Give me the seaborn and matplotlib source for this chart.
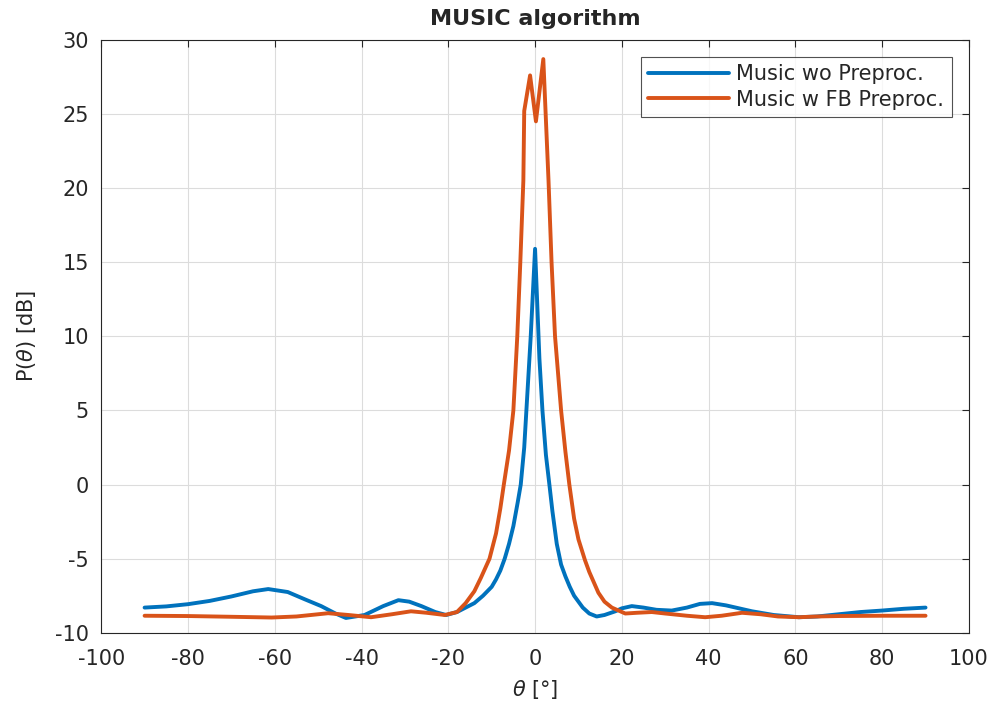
import pandas as pd
import matplotlib
matplotlib.use("Agg")
import matplotlib.pyplot as plt
import seaborn as sns

# %% Dados
theta_wo = [-90, -85, -80, -75, -70, -65, -61.5, -57, -53, -49.3, -46, -43.6, -39.3, -35, -31.5, -29, -26.2, -23, -20.5,
            -18, -16, -14, -12, -10, -9, -8, -7, -6, -5, -4, -3.3, -2.5, -2, -1, 0,
            1, 1.7, 2.5, 3.3, 4, 5, 6, 7, 8, 9, 10, 11, 12.5, 14.2, 16, 18.5, 20, 22.3, 25, 28, 31.5,
            35, 38, 40.8, 44, 47, 50, 55, 60.8, 65, 70, 75, 80, 85, 90]
p_wo = [-8.3, -8.22, -8.07, -7.85, -7.55, -7.2, -7.05, -7.25, -7.75, -8.2, -8.7, -9.0, -8.8, -8.2, -7.8, -7.9, -8.2, -8.6, -8.8,
        -8.6, -8.3, -8.0, -7.5, -6.9, -6.4, -5.8, -5.0, -4.0, -2.8, -1.2, 0.0, 2.5, 5.0, 10.0, 15.9,
        8.5, 5.0, 2.0, 0.0, -1.8, -4.0, -5.4, -6.2, -6.9, -7.5, -7.9, -8.3, -8.7, -8.9, -8.8, -8.55, -8.35, -8.2, -8.3, -8.45, -8.5,
        -8.3, -8.05, -8.0, -8.15, -8.35, -8.55, -8.8, -8.95, -8.9, -8.75, -8.6, -8.5, -8.38, -8.3]

theta_fb = [-90, -80, -70, -60.7, -55, -50, -47.7, -43, -37.8, -33, -28.6, -25, -20.8,
            -18, -16, -14, -12.5, -10.5, -9, -8, -7.2, -6, -5, -4.1, -3.4, -2.7, -2.5, -1.15, 0.2,
            1.9, 3.1, 3.8, 4.6, 6.0, 7.0, 7.9, 9, 10, 11.5, 12.5, 14.6, 16, 17.7, 20.8,
            23.5, 26.9, 30, 35, 39.2, 43, 47.7, 52, 56, 60.8, 65, 70, 80, 90]
p_fb = [-8.85, -8.87, -8.92, -8.97, -8.9, -8.75, -8.68, -8.8, -8.95, -8.75, -8.55, -8.65, -8.8,
        -8.6, -8.0, -7.2, -6.3, -5.0, -3.3, -1.6, 0.0, 2.3, 5.0, 10.0, 15.0, 20.5, 25.2, 27.6, 24.5,
        28.7, 20.5, 15.0, 10.0, 5.0, 2.2, 0.0, -2.3, -3.7, -5.1, -5.9, -7.3, -7.9, -8.3, -8.7,
        -8.65, -8.6, -8.7, -8.85, -8.95, -8.85, -8.65, -8.75, -8.9, -8.95, -8.9, -8.87, -8.85, -8.85]

x_ticks = list(range(-100, 101, 20))
y_ticks = list(range(-10, 31, 5))

df_wo = pd.DataFrame({"theta": theta_wo, "P": p_wo})
df_fb = pd.DataFrame({"theta": theta_fb, "P": p_fb})

# %% Estilo tipo MATLAB
sns.set_style("white")
plt.rcParams["font.family"] = ["DejaVu Sans"]
plt.rcParams["mathtext.fontset"] = "dejavusans"
plt.rcParams["axes.unicode_minus"] = False

fig = plt.figure(figsize=(10.02, 7.11), dpi=100)
ax = fig.add_axes([0.101, 0.11, 0.866, 0.834])

sns.lineplot(data=df_wo, x="theta", y="P", ax=ax, color="#0072BD", linewidth=2.8,
             estimator=None, sort=False, label="Music wo Preproc.")
sns.lineplot(data=df_fb, x="theta", y="P", ax=ax, color="#D95319", linewidth=2.8,
             estimator=None, sort=False, label="Music w FB Preproc.")

ax.set_xlim(-100, 100)
ax.set_ylim(-10, 30)
ax.set_xticks(x_ticks)
ax.set_yticks(y_ticks)
ax.grid(True, color="#dcdcdc", linewidth=0.8)
ax.set_axisbelow(True)
ax.tick_params(direction="in", top=True, right=True, length=5, width=0.8,
               labelsize=15, colors="#262626")
ax.tick_params(axis="y", pad=9)
ax.tick_params(axis="x", pad=12)
for s in ax.spines.values():
    s.set_color("#262626")
    s.set_linewidth(0.8)
    s.set_visible(True)

ax.set_title("MUSIC algorithm", fontsize=16, fontweight="bold", pad=11)
ax.set_xlabel(r"$\theta$ [°]", fontsize=15, color="#262626", labelpad=6)
ax.set_ylabel(r"P($\theta$) [dB]", fontsize=15, color="#262626", labelpad=12)

leg = ax.legend(loc="upper right", bbox_to_anchor=(0.980, 0.971), fontsize=15,
                frameon=True, fancybox=False, handlelength=3.9, borderpad=0.35,
                labelspacing=0.25, handletextpad=0.35, borderaxespad=0)
leg.get_frame().set_edgecolor("#262626")
leg.get_frame().set_linewidth(0.8)

fig.savefig("out.png", dpi=100)
